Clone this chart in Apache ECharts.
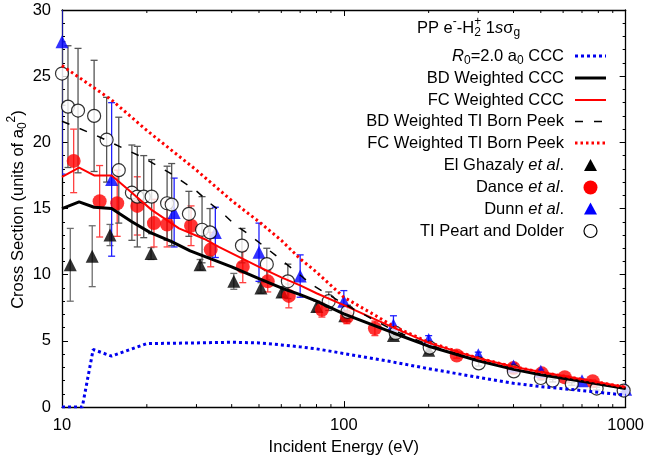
<!DOCTYPE html>
<html>
<head>
<meta charset="utf-8">
<script src="https://cdn.jsdelivr.net/npm/echarts/dist/echarts.min.js"></script>
<style>
  html, body { margin: 0; padding: 0; background: #fff; }
  #chart { width: 647px; height: 461px; }
</style>
</head>
<body>
<div id="chart"></div>
<script>
// ---- data (energy in eV, cross section in a0^2) ----
// R0=2.0 a0 CCC
const eR0 = [10, 11.8, 12.9, 15, 20, 30, 40, 50, 60, 70, 80, 100, 150, 200, 300, 400, 500, 700, 1000];
const sR0 = [0, 0, 4.35, 3.85, 4.8, 4.85, 4.9, 4.85, 4.7, 4.55, 4.4, 4.05, 3.4, 2.9, 2.25, 1.8, 1.55, 1.25, 0.9];
// BD weighted CCC
const eBD = [10, 11.5, 13, 15, 17.7, 20.5, 24.5, 28.5, 40, 50, 60, 70, 80, 100, 150, 200, 300, 400, 500, 700, 1000];
const sBD = [15.0, 15.5, 15.1, 15.0, 14.0, 13.2, 12.5, 11.8, 10.6, 9.7, 9.0, 8.5, 8.0, 7.05, 5.6, 4.6, 3.5, 2.85, 2.45, 1.95, 1.4];
// FC weighted CCC
const eFC = [10, 11.5, 13, 15, 17.7, 20.8, 26, 32, 36, 50, 60, 70, 80, 100, 150, 200, 300, 400, 500, 700, 1000];
const sFC = [17.4, 18.1, 17.5, 17.5, 16.2, 14.9, 13.5, 12.7, 12.1, 10.6, 9.8, 9.2, 8.6, 7.7, 6.0, 4.85, 3.7, 3.05, 2.65, 2.1, 1.5];
// BD weighted TI Born Peek
const eBDT = [10, 13.3, 16.7, 19.2, 24.1, 30.1, 33.5, 36.9, 41, 46.3, 57, 77.6, 100, 150, 200, 300, 500, 700, 1000];
const sBDT = [21.6, 20.5, 19.5, 18.9, 17.7, 16.3, 15.4, 14.7, 13.8, 13.0, 11.5, 9.2, 7.8, 5.8, 4.7, 3.5, 2.45, 1.95, 1.4];
// FC weighted TI Born Peek
const eFCT = [10, 15, 20, 30, 40, 50, 60, 70, 80, 100, 130, 150, 200, 300, 400, 500, 700, 1000];
const sFCT = [25.8, 23.2, 20.9, 17.9, 15.6, 14.0, 12.6, 11.2, 10.2, 8.3, 6.9, 6.1, 4.9, 3.7, 3.05, 2.65, 2.1, 1.5];

// El Ghazaly et al.
const eEG = [10.7, 12.8, 14.8, 20.7, 30.9, 40.7, 50.8, 60.3, 80.2, 100.8, 150, 200];
const sEG = [10.75, 11.4, 13.0, 11.6, 10.75, 9.5, 9.0, 8.7, 7.6, 6.9, 5.4, 4.3];
const dEG = [2.75, 2.3, 0.8, 0.45, 0.4, 0.6, 0.4, 0.4, 0.4, 0.4, 0.3, 0.25];
// Dance et al.
const eDA = [11, 13.6, 15.7, 18.5, 21.2, 23.6, 28.7, 33.7, 43.8, 53.7, 63.8, 83.6, 102.5, 128.9, 251.6, 400, 504, 608, 764];
const sDA = [18.6, 15.55, 15.4, 15.2, 13.9, 13.8, 13.7, 11.9, 10.6, 9.5, 8.4, 7.35, 6.8, 5.95, 3.9, 2.95, 2.55, 2.25, 1.95];
const dDA = [2.4, 2.7, 2.5, 2.2, 1.8, 1.7, 1.5, 1.3, 1.2, 0.8, 0.9, 0.55, 0.5, 0.55, 0.2, 0.15, 0.15, 0.1, 0.1];
// Dunn et al.
const eDU = [10, 15, 25, 35, 50, 70, 100, 150, 200, 300, 400, 500, 700, 1000];
const sDU = [27.6, 17.2, 14.7, 13.2, 11.7, 9.9, 8.0, 6.2, 5.1, 3.95, 3.1, 2.7, 2.0, 1.35];
const dDU = [10, 5.8, 2.6, 1.9, 2.2, 1.6, 0.8, 0.7, 0.3, 0.2, 0.2, 0.15, 0.1, 0.1];
// TI Peart and Dolder
const ePD = [10, 10.5, 11.4, 13.0, 14.4, 15.9, 17.7, 18.5, 19.5, 20.8, 23.6, 24.5, 28.2, 31.4, 33.5, 43.5, 53.3, 63.3, 88.4, 103, 152.8, 201.7, 301, 401, 500, 551, 644, 789, 984];
const sPD = [25.2, 22.7, 22.4, 22.0, 20.2, 17.9, 16.2, 15.9, 15.9, 15.9, 15.4, 15.3, 14.6, 13.4, 13.2, 12.2, 10.8, 9.5, 8.0, 7.2, 5.6, 4.5, 3.3, 2.7, 2.2, 2.0, 1.75, 1.4, 1.25];
const dPD = [2.4, 4.6, 4.7, 4.2, 3.2, 4.0, 3.6, 3.8, 3.1, 2.8, 2.8, 3.1, 1.7, 2.5, 1.8, 1.3, 1.2, 1.3, 0.7, 0.5, 0.3, 0.3, 0.2, 0.15, 0.15, 0.1, 0.1, 0.1, 0.1];

// minor ticks of the log x axis
const minorX = [20, 30, 40, 50, 60, 70, 80, 90, 200, 300, 400, 500, 600, 700, 800, 900];

const FONT = '"Liberation Sans", Arial, Helvetica, sans-serif';
const FS = 16.5;
const FS_SMALL = 12;

const chart = echarts.init(document.getElementById('chart'));

const pairs = (xs, ys) => xs.map((x, i) => [x, ys[i]]);
const bars = (xs, ys, ds) => xs.map((x, i) => [x, ys[i] - ds[i], ys[i] + ds[i]]);

// measure text so sub/superscripts can be placed by hand
const ctx = document.createElement('canvas').getContext('2d');
function measure(t, size, italic) {
  ctx.font = (italic ? 'italic ' : '') + size + 'px ' + FONT;
  return ctx.measureText(t).width;
}

// pieces: {t, s:'sub'|'sup', it:true, stack:true}
function textRun(pieces, x0, cy, align) {
  let x = 0, prevX = 0;
  const items = [];
  pieces.forEach(p => {
    const size = p.s ? FS_SMALL : FS;
    const w = measure(p.t, size, p.it);
    let px = x;
    if (p.stack) { px = prevX; x = Math.max(x, prevX + w); } else { x += w; }
    items.push({ px, p, size });
    prevX = px;
  });
  const shift = align === 'right' ? -x : align === 'center' ? -x / 2 : 0;
  return items.map(({ px, p, size }) => ({
    type: 'text',
    x: x0 + px + shift,
    y: cy + (p.s === 'sub' ? 5 : p.s === 'sup' ? -6 : 0),
    silent: true,
    style: {
      text: p.t, fontSize: size, fontFamily: FONT,
      fontStyle: p.it ? 'italic' : 'normal',
      fill: '#000', align: 'left', verticalAlign: 'middle'
    }
  }));
}

function errRender(color) {
  return function (params, api) {
    const x = api.value(0);
    const lo = api.coord([x, api.value(1)]);
    const hi = api.coord([x, api.value(2)]);
    const st = { stroke: color, lineWidth: 1.3 };
    const cap = 3.5;
    return {
      type: 'group',
      children: [
        { type: 'line', shape: { x1: lo[0], y1: lo[1], x2: hi[0], y2: hi[1] }, style: st },
        { type: 'line', shape: { x1: lo[0] - cap, y1: lo[1], x2: lo[0] + cap, y2: lo[1] }, style: st },
        { type: 'line', shape: { x1: hi[0] - cap, y1: hi[1], x2: hi[0] + cap, y2: hi[1] }, style: st }
      ]
    };
  };
}

function errSeries(xs, ys, ds, color) {
  return {
    type: 'custom', silent: true, clip: true,
    data: bars(xs, ys, ds),
    encode: { x: 0, y: [1, 2] },
    renderItem: errRender(color)
  };
}

function lineSeries(xs, ys, color, width, dash) {
  return {
    type: 'line', silent: true, symbol: 'none',
    data: pairs(xs, ys),
    lineStyle: { color: color, width: width, type: dash || 'solid' }
  };
}

// legend (right aligned text, sample on the right)
const legendRight = 564;
const sampleX1 = 575, sampleX2 = 606, sampleC = 590.5;
const rowY = [56, 78, 100, 121.5, 143, 165.5, 187.5, 209, 231];
const graphics = [];
graphics.push(...textRun([
  { t: 'PP e' }, { t: '-', s: 'sup' }, { t: '-H' }, { t: '2', s: 'sub' }, { t: '+', s: 'sup', stack: true },
  { t: ' 1' }, { t: 's', it: true }, { t: 'σ' }, { t: 'g', s: 'sub' }
], 417, 28, 'left'));
const rows = [
  [{ t: 'R', it: true }, { t: '0', s: 'sub' }, { t: '=2.0 a' }, { t: '0', s: 'sub' }, { t: ' CCC' }],
  [{ t: 'BD Weighted CCC' }],
  [{ t: 'FC Weighted CCC' }],
  [{ t: 'BD Weighted TI Born Peek' }],
  [{ t: 'FC Weighted TI Born Peek' }],
  [{ t: 'El Ghazaly ' }, { t: 'et al', it: true }, { t: '.' }],
  [{ t: 'Dance ' }, { t: 'et al', it: true }, { t: '.' }],
  [{ t: 'Dunn ' }, { t: 'et al', it: true }, { t: '.' }],
  [{ t: 'TI Peart and Dolder' }]
];
rows.forEach((r, i) => graphics.push(...textRun(r, legendRight, rowY[i], 'right')));
const lineSamples = [
  ['#0000ee', 3, [3, 3]],
  ['#000', 3, null],
  ['#ff0000', 2, null],
  ['#000', 1.5, [8, 11]],
  ['#ff0000', 3, [2.5, 3]]
];
lineSamples.forEach((s, i) => graphics.push({
  type: 'line', silent: true,
  shape: { x1: sampleX1, y1: rowY[i], x2: sampleX2, y2: rowY[i] },
  style: { stroke: s[0], lineWidth: s[1], lineDash: s[2] }
}));
function tri(cx, cy, color) {
  return { type: 'polygon', silent: true, shape: { points: [[cx, cy - 6.5], [cx + 6.5, cy + 5.5], [cx - 6.5, cy + 5.5]] }, style: { fill: color } };
}
graphics.push(tri(sampleC, rowY[5], '#000'));
graphics.push({ type: 'circle', silent: true, shape: { cx: sampleC, cy: rowY[6], r: 7 }, style: { fill: '#ff0000' } });
graphics.push(tri(sampleC, rowY[7], '#0000ff'));
graphics.push({ type: 'circle', silent: true, shape: { cx: sampleC, cy: rowY[8], r: 6.5 }, style: { fill: '#fff', stroke: '#000', lineWidth: 1.2 } });

// y axis title, rotated
graphics.push({
  type: 'group', x: 18, y: 209.5, rotation: Math.PI / 2, silent: true,
  children: textRun([{ t: 'Cross Section (units of a' }, { t: '0', s: 'sub' }, { t: '2', s: 'sup' }, { t: ')' }], 0, 0, 'center')
});

const axisCommon = {
  axisLine: { show: true, onZero: false, lineStyle: { color: '#000', width: 1.3 } },
  axisTick: { show: true, inside: true, length: 6, lineStyle: { color: '#000', width: 1 } },
  splitLine: { show: false }
};

const option = {
  animation: false,
  backgroundColor: '#fff',
  grid: { left: 62, right: 21, top: 10, bottom: 52, containLabel: false },
  xAxis: [
    Object.assign({
      type: 'log', logBase: 10, min: 10, max: 1000, position: 'bottom',
      axisLabel: { color: '#000', fontSize: FS, fontFamily: FONT, margin: 10, formatter: v => String(Math.round(v)) },
      name: 'Incident Energy (eV)', nameLocation: 'middle', nameGap: 27,
      nameTextStyle: { color: '#000', fontSize: FS, fontFamily: FONT }
    }, axisCommon),
    Object.assign({
      type: 'log', logBase: 10, min: 10, max: 1000, position: 'top',
      axisLabel: { show: false }
    }, axisCommon)
  ],
  yAxis: [
    Object.assign({
      type: 'value', min: 0, max: 30, interval: 5, position: 'left',
      minorTick: { show: true, splitNumber: 5, length: 3, lineStyle: { color: '#000', width: 1 } },
      axisLabel: { color: '#000', fontSize: FS, fontFamily: FONT, margin: 11 }
    }, axisCommon),
    Object.assign({
      type: 'value', min: 0, max: 30, interval: 5, position: 'right',
      minorTick: { show: true, splitNumber: 5, length: 3, lineStyle: { color: '#000', width: 1 } },
      axisLabel: { show: false }
    }, axisCommon)
  ],
  graphic: graphics,
  series: [
    // minor ticks of the log axis (bottom and top)
    {
      type: 'custom', silent: true, clip: false,
      data: minorX.map(x => [x, 0]),
      encode: { x: 0, y: 1 },
      renderItem: function (params, api) {
        const b = api.coord([api.value(0), 0]);
        const t = api.coord([api.value(0), 30]);
        const st = { stroke: '#000', lineWidth: 1 };
        return {
          type: 'group', children: [
            { type: 'line', shape: { x1: b[0], y1: b[1], x2: b[0], y2: b[1] - 3 }, style: st },
            { type: 'line', shape: { x1: t[0], y1: t[1], x2: t[0], y2: t[1] + 3 }, style: st }
          ]
        };
      }
    },
    lineSeries(eR0, sR0, '#0000ee', 3, [3, 3]),
    lineSeries(eBD, sBD, '#000', 3),
    lineSeries(eFC, sFC, '#ff0000', 2),
    lineSeries(eBDT, sBDT, '#000', 1.5, [8, 11]),
    lineSeries(eFCT, sFCT, '#ff0000', 3, [2.5, 3]),
    errSeries(eEG, sEG, dEG, '#6e6e6e'),
    { type: 'scatter', silent: true, clip: false, symbol: 'triangle', symbolSize: 13, data: pairs(eEG, sEG), itemStyle: { color: '#000' } },
    errSeries(eDA, sDA, dDA, '#ff4040'),
    { type: 'scatter', silent: true, clip: false, symbol: 'circle', symbolSize: 14, data: pairs(eDA, sDA), itemStyle: { color: '#ff0000' } },
    errSeries(eDU, sDU, dDU, '#2020ff'),
    { type: 'scatter', silent: true, clip: false, symbol: 'triangle', symbolSize: 13, data: pairs(eDU, sDU), itemStyle: { color: '#0000ff' } },
    errSeries(ePD, sPD, dPD, '#555'),
    { type: 'scatter', silent: true, clip: false, symbol: 'circle', symbolSize: 13, data: pairs(ePD, sPD), itemStyle: { color: '#fff', borderColor: '#000', borderWidth: 1.2 } }
  ]
};

chart.setOption(option);
</script>
</body>
</html>
